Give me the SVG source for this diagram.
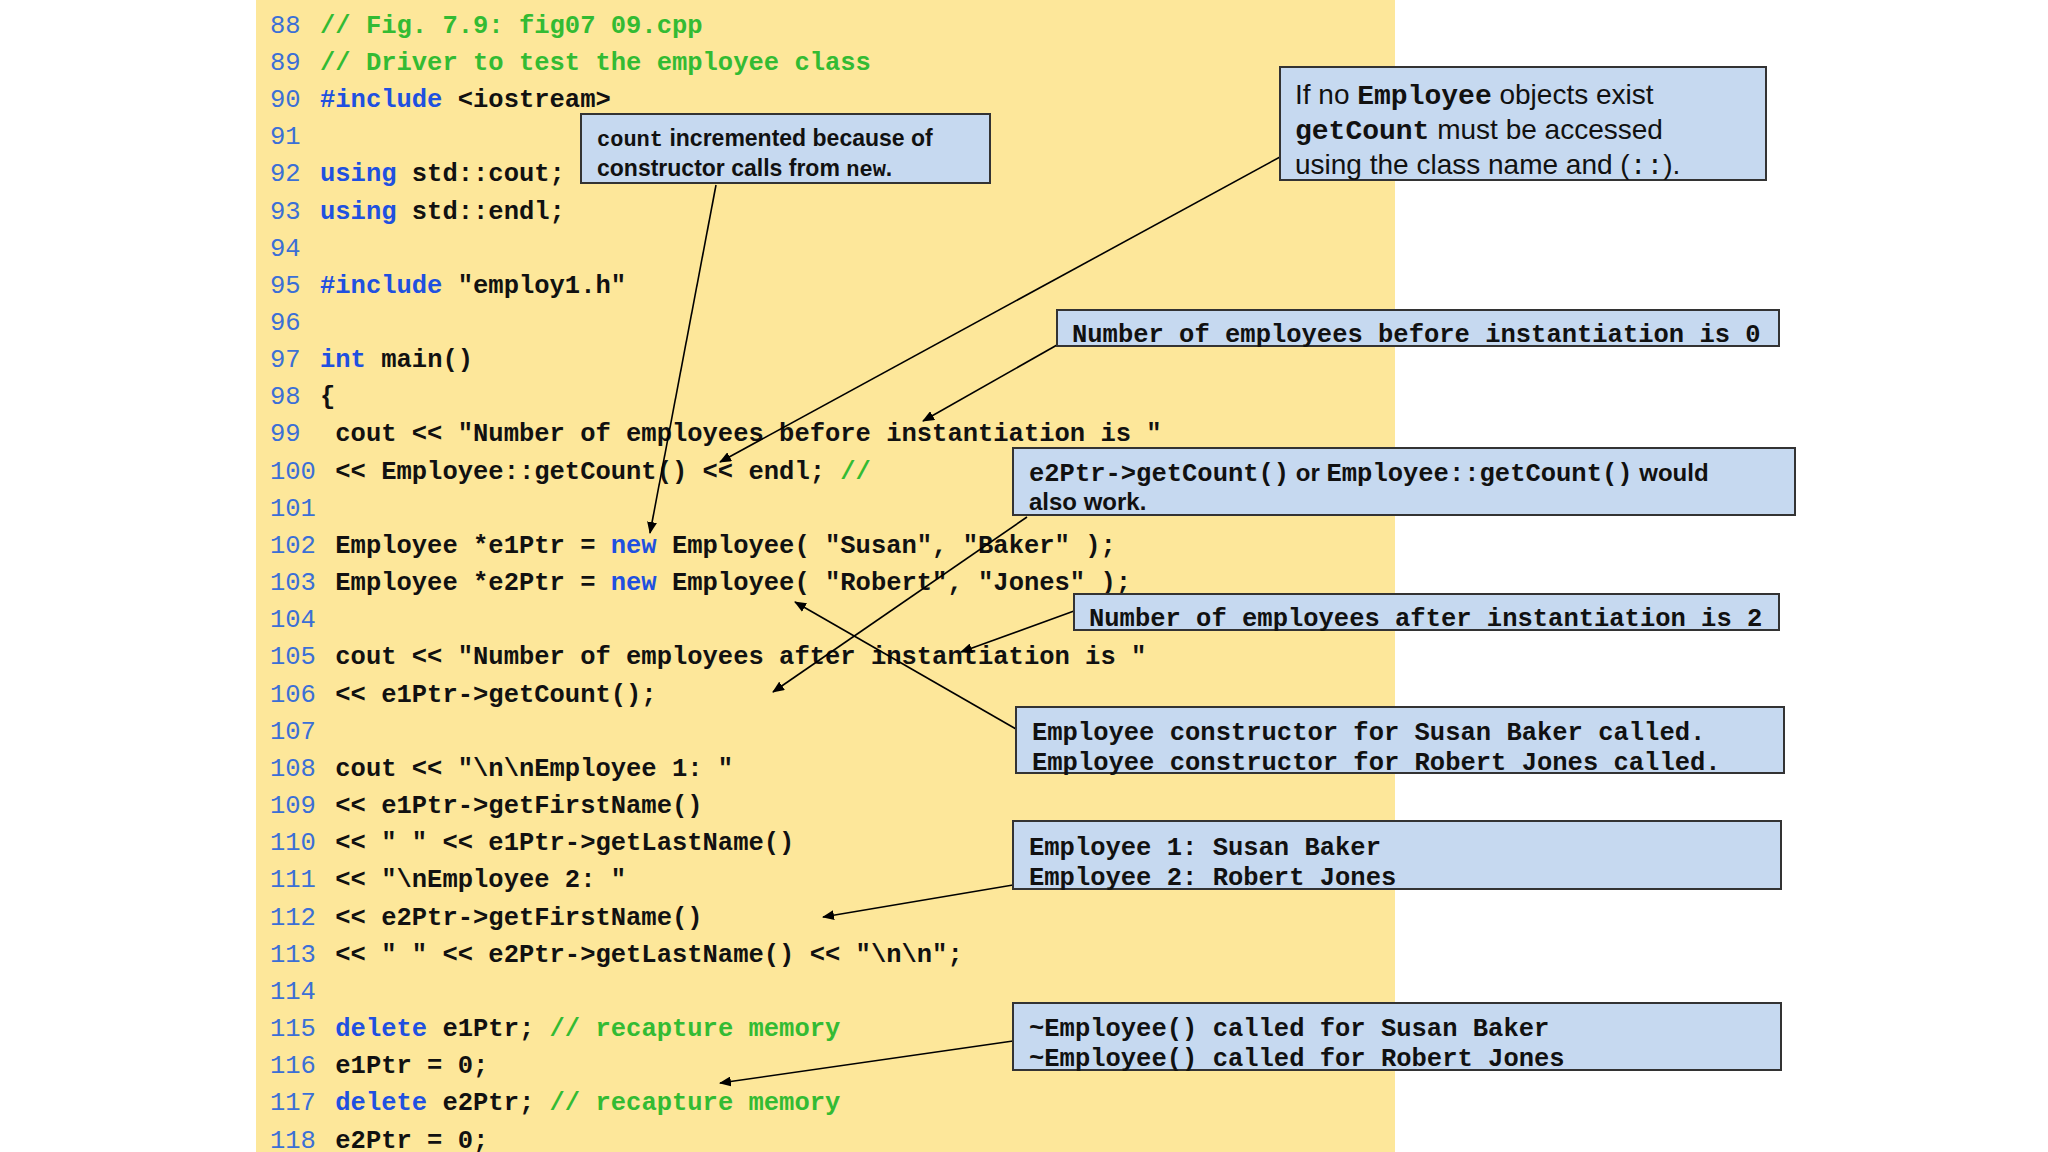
<svg xmlns="http://www.w3.org/2000/svg" width="2048" height="1152" viewBox="0 0 2048 1152">
<defs>
<style>
.code{font-family:"Liberation Mono",monospace;font-weight:bold;font-size:25.5px;fill:#111;white-space:pre}
.ln{fill:#3b6fd6;font-weight:normal}
.kw{fill:#2050e0}
.cm{fill:#33bb33}
.box{fill:#c6d9f0;stroke:#333;stroke-width:2}
.sans{font-family:"Liberation Sans",Arial,sans-serif;fill:#111}
.conn{stroke:#000;stroke-width:1.6;fill:none;marker-end:url(#ah)}
</style>
<marker id="ah" markerWidth="12" markerHeight="10" refX="11" refY="5" orient="auto" markerUnits="userSpaceOnUse">
<path d="M0,0 L12,5 L0,10 Z" fill="#000"/>
</marker>
</defs>
<rect width="2048" height="1152" fill="#fff"/>
<rect x="256" y="0" width="1139" height="1152" fill="#fde79a"/>
<g id="code" class="code" xml:space="preserve">
<text x="270" y="33"><tspan class="ln">88</tspan><tspan x="320" class="cm">// Fig. 7.9: fig07 09.cpp</tspan></text>
<text x="270" y="70"><tspan class="ln">89</tspan><tspan x="320" class="cm">// Driver to test the employee class</tspan></text>
<text x="270" y="107"><tspan class="ln">90</tspan><tspan x="320"><tspan class="kw">#include</tspan> &lt;iostream&gt;</tspan></text>
<text x="270" y="144"><tspan class="ln">91</tspan></text>
<text x="270" y="181"><tspan class="ln">92</tspan><tspan x="320"><tspan class="kw">using</tspan> std::cout;</tspan></text>
<text x="270" y="219"><tspan class="ln">93</tspan><tspan x="320"><tspan class="kw">using</tspan> std::endl;</tspan></text>
<text x="270" y="256"><tspan class="ln">94</tspan></text>
<text x="270" y="293"><tspan class="ln">95</tspan><tspan x="320"><tspan class="kw">#include</tspan> "employ1.h"</tspan></text>
<text x="270" y="330"><tspan class="ln">96</tspan></text>
<text x="270" y="367"><tspan class="ln">97</tspan><tspan x="320"><tspan class="kw">int</tspan> main()</tspan></text>
<text x="270" y="404"><tspan class="ln">98</tspan><tspan x="320">{</tspan></text>
<text x="270" y="441"><tspan class="ln">99</tspan><tspan x="320">   cout &lt;&lt; "Number of employees before instantiation is "</tspan></text>
<text x="270" y="479"><tspan class="ln">100</tspan><tspan x="320">        &lt;&lt; Employee::getCount() &lt;&lt; endl;   <tspan class="cm">//</tspan></tspan></text>
<text x="270" y="516"><tspan class="ln">101</tspan></text>
<text x="270" y="553"><tspan class="ln">102</tspan><tspan x="320">   Employee *e1Ptr = <tspan class="kw">new</tspan> Employee( "Susan", "Baker" );</tspan></text>
<text x="270" y="590"><tspan class="ln">103</tspan><tspan x="320">   Employee *e2Ptr = <tspan class="kw">new</tspan> Employee( "Robert", "Jones" );</tspan></text>
<text x="270" y="627"><tspan class="ln">104</tspan></text>
<text x="270" y="664"><tspan class="ln">105</tspan><tspan x="320">   cout &lt;&lt; "Number of employees after instantiation is "</tspan></text>
<text x="270" y="702"><tspan class="ln">106</tspan><tspan x="320">        &lt;&lt; e1Ptr-&gt;getCount();</tspan></text>
<text x="270" y="739"><tspan class="ln">107</tspan></text>
<text x="270" y="776"><tspan class="ln">108</tspan><tspan x="320">   cout &lt;&lt; "\n\nEmployee 1: "</tspan></text>
<text x="270" y="813"><tspan class="ln">109</tspan><tspan x="320">        &lt;&lt; e1Ptr-&gt;getFirstName()</tspan></text>
<text x="270" y="850"><tspan class="ln">110</tspan><tspan x="320">        &lt;&lt; " " &lt;&lt; e1Ptr-&gt;getLastName()</tspan></text>
<text x="270" y="887"><tspan class="ln">111</tspan><tspan x="320">        &lt;&lt; "\nEmployee 2: "</tspan></text>
<text x="270" y="925"><tspan class="ln">112</tspan><tspan x="320">        &lt;&lt; e2Ptr-&gt;getFirstName()</tspan></text>
<text x="270" y="962"><tspan class="ln">113</tspan><tspan x="320">        &lt;&lt; " " &lt;&lt; e2Ptr-&gt;getLastName() &lt;&lt; "\n\n";</tspan></text>
<text x="270" y="999"><tspan class="ln">114</tspan></text>
<text x="270" y="1036"><tspan class="ln">115</tspan><tspan x="320">   <tspan class="kw">delete</tspan> e1Ptr;   <tspan class="cm">// recapture memory</tspan></tspan></text>
<text x="270" y="1073"><tspan class="ln">116</tspan><tspan x="320">   e1Ptr = 0;</tspan></text>
<text x="270" y="1110"><tspan class="ln">117</tspan><tspan x="320">   <tspan class="kw">delete</tspan> e2Ptr;   <tspan class="cm">// recapture memory</tspan></tspan></text>
<text x="270" y="1148"><tspan class="ln">118</tspan><tspan x="320">   e2Ptr = 0;</tspan></text>
</g>
<g id="connectors">
<line class="conn" x1="716" y1="185" x2="650" y2="533"/>
<line class="conn" x1="1280" y1="157" x2="720" y2="462"/>
<line class="conn" x1="1057" y1="345" x2="923" y2="421"/>
<line class="conn" x1="1027" y1="517" x2="773" y2="692"/>
<line class="conn" x1="1074" y1="611" x2="961" y2="652"/>
<line class="conn" x1="1016" y1="729" x2="795" y2="602"/>
<line class="conn" x1="1013" y1="885" x2="823" y2="917"/>
<line class="conn" x1="1013" y1="1041" x2="720" y2="1083"/>
</g>
<g id="n1"><rect class="box" x="581" y="114" width="409" height="69"/>
<text class="sans" font-weight="bold" font-size="23" x="597" y="146"><tspan font-family="Liberation Mono,monospace" font-size="22">count</tspan> incremented because of</text>
<text class="sans" font-weight="bold" font-size="23" x="597" y="176">constructor calls from <tspan font-family="Liberation Mono,monospace" font-size="22">new</tspan>.</text></g>
<g id="n2"><rect class="box" x="1280" y="67" width="486" height="113"/>
<text class="sans" font-size="28" x="1295" y="104">If no <tspan font-family="Liberation Mono,monospace" font-weight="bold">Employee</tspan> objects exist</text>
<text class="sans" font-size="28" x="1295" y="139"><tspan font-family="Liberation Mono,monospace" font-weight="bold">getCount</tspan> must be accessed</text>
<text class="sans" font-size="28" x="1295" y="174">using the class name and (<tspan font-family="Liberation Mono,monospace">::</tspan>).</text></g>
<g id="n3"><rect class="box" x="1057" y="310" width="722" height="36"/>
<text class="code" x="1072" y="342">Number of employees before instantiation is 0</text></g>
<g id="n4"><rect class="box" x="1013" y="448" width="782" height="67"/>
<text class="sans" font-weight="bold" font-size="24" x="1029" y="481"><tspan class="code" font-size="24">e2Ptr-&gt;getCount()</tspan> or <tspan class="code" font-size="24">Employee::getCount()</tspan> would</text>
<text class="sans" font-weight="bold" font-size="24" x="1029" y="510">also work.</text></g>
<g id="n5"><rect class="box" x="1074" y="594" width="705" height="36"/>
<text class="code" x="1089" y="626">Number of employees after instantiation is 2</text></g>
<g id="n6"><rect class="box" x="1016" y="707" width="768" height="66"/>
<text class="code" x="1032" y="740">Employee constructor for Susan Baker called.</text>
<text class="code" x="1032" y="770">Employee constructor for Robert Jones called.</text></g>
<g id="n7"><rect class="box" x="1013" y="821" width="768" height="68"/>
<text class="code" x="1029" y="855">Employee 1: Susan Baker</text>
<text class="code" x="1029" y="885">Employee 2: Robert Jones</text></g>
<g id="n8"><rect class="box" x="1013" y="1003" width="768" height="67"/>
<text class="code" x="1029" y="1036">~Employee() called for Susan Baker</text>
<text class="code" x="1029" y="1066">~Employee() called for Robert Jones</text></g>
</svg>
